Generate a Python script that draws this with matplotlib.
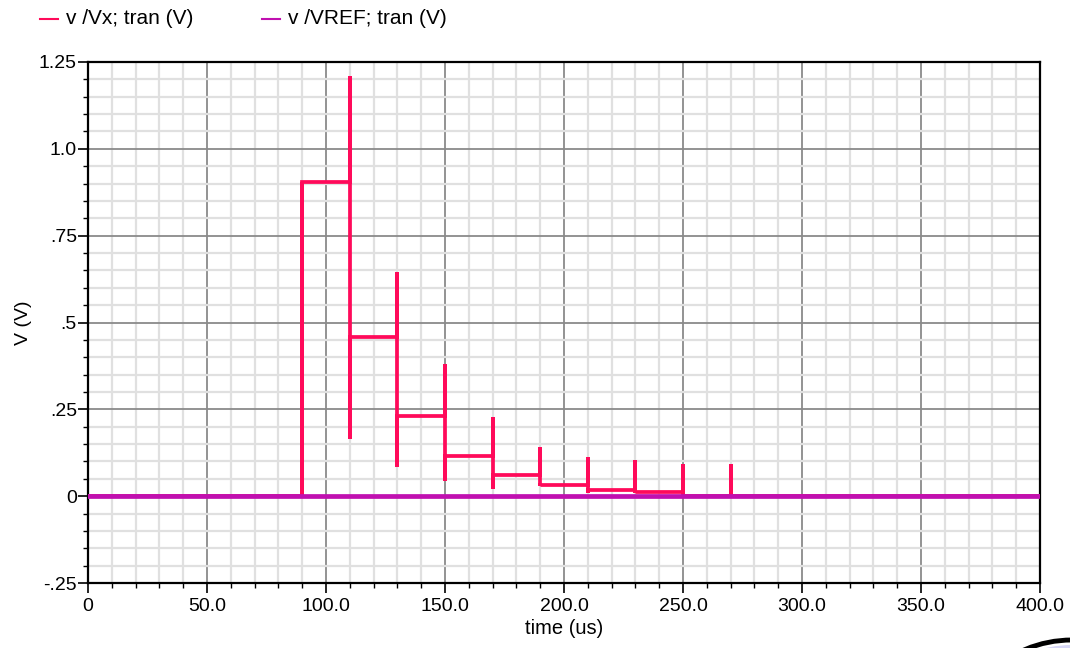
import matplotlib
matplotlib.use("Agg")
import matplotlib.pyplot as plt
from matplotlib.ticker import MultipleLocator, FixedLocator, FixedFormatter
from matplotlib.patches import Ellipse

plt.rcParams['font.family'] = ['Liberation Sans', 'DejaVu Sans']

# switching instants of the Vx node (us)
t_edges = [90, 110, 130, 150, 170, 190, 210, 230, 250, 270]
# settled level after each edge (V)
v_level = [0.905, 0.458, 0.232, 0.115, 0.060, 0.032, 0.017, 0.012, 0.0, 0.0]
# overshoot peak and undershoot dip at each edge (V)
v_peak = [0.905, 1.21, 0.645, 0.38, 0.228, 0.142, 0.113, 0.104, 0.092, 0.092]
v_dip = [0.0, 0.165, 0.084, 0.045, 0.022, 0.028, 0.010, 0.008, 0.0, 0.0]
t_end = 400.0

# reference node stays at ground
t_ref = [0.0, 400.0]
v_ref = [0.0, 0.0]

ytick_vals = [-0.25, 0, 0.25, 0.5, 0.75, 1.0, 1.25]
ytick_txt = ['-.25', '0', '.25', '.5', '.75', '1.0', '1.25']
xtick_vals = [0, 50, 100, 150, 200, 250, 300, 350, 400]
xtick_txt = ['0', '50.0', '100.0', '150.0', '200.0', '250.0', '300.0', '350.0', '400.0']

# build the stepped waveform with spikes at every edge
tx, vx = [0.0], [0.0]
for t, hi, lo, lev in zip(t_edges, v_peak, v_dip, v_level):
    tx += [t, t, t, t]
    vx += [vx[-1], hi, lo, lev]
tx.append(t_end)
vx.append(vx[-1])

c_vx = '#ff0a5a'
c_ref = '#c010b0'

W, H = 1070, 648
fig = plt.figure(figsize=(W / 100, H / 100), dpi=100)
ax = fig.add_axes([88 / W, 1 - 583 / H, 952 / W, 521 / H])

ax.plot(tx, vx, color=c_vx, lw=2.7, solid_joinstyle='miter', zorder=3)
ax.plot(t_ref, v_ref, color=c_ref, lw=3.4, zorder=4)

ax.set_xlim(0, 400)
ax.set_ylim(-0.25, 1.25)
ax.xaxis.set_major_locator(FixedLocator(xtick_vals))
ax.xaxis.set_major_formatter(FixedFormatter(xtick_txt))
ax.yaxis.set_major_locator(FixedLocator(ytick_vals))
ax.yaxis.set_major_formatter(FixedFormatter(ytick_txt))
ax.xaxis.set_minor_locator(MultipleLocator(10))
ax.yaxis.set_minor_locator(MultipleLocator(0.05))

ax.grid(which='minor', color='#e0e0e0', lw=1.6, zorder=0)
ax.grid(which='major', color='#8a8a8a', lw=1.3, zorder=1)
ax.set_axisbelow(True)

ax.tick_params(which='major', direction='out', length=7, width=1.2, labelsize=14, color='black')
ax.tick_params(axis='x', which='major', pad=4)
ax.tick_params(axis='y', which='major', pad=1)
ax.tick_params(which='minor', direction='out', length=3.5, width=1.0, color='black')
for s in ax.spines.values():
    s.set_color('black')
    s.set_linewidth(1.6)

ax.set_xlabel('time (us)', fontsize=14.5, labelpad=3)
ax.set_ylabel('V (V)', fontsize=14, labelpad=5)

# legend row above the plot
ly = 1 - 19 / H
fig.add_artist(plt.Line2D([40 / W, 58 / W], [ly, ly], color=c_vx, lw=1.5))
fig.text(66 / W, ly, 'v /Vx; tran (V)', fontsize=15, va='center')
fig.add_artist(plt.Line2D([262 / W, 280 / W], [ly, ly], color=c_ref, lw=1.5))
fig.text(288 / W, ly, 'v /VREF; tran (V)', fontsize=15, va='center')

# corner badge, mostly off the canvas
cx, cy = 1072 / W, 1 - 761 / H
fig.add_artist(Ellipse((cx, cy), 2 * 121 / W, 2 * 121 / H, transform=fig.transFigure,
                       facecolor='white', edgecolor='black', lw=3.5, clip_on=False))
fig.add_artist(Ellipse((cx, cy), 2 * 116 / W, 2 * 116 / H, transform=fig.transFigure,
                       facecolor='#d6d6f6', edgecolor='none', clip_on=False))

fig.savefig('out.png', dpi=100)
